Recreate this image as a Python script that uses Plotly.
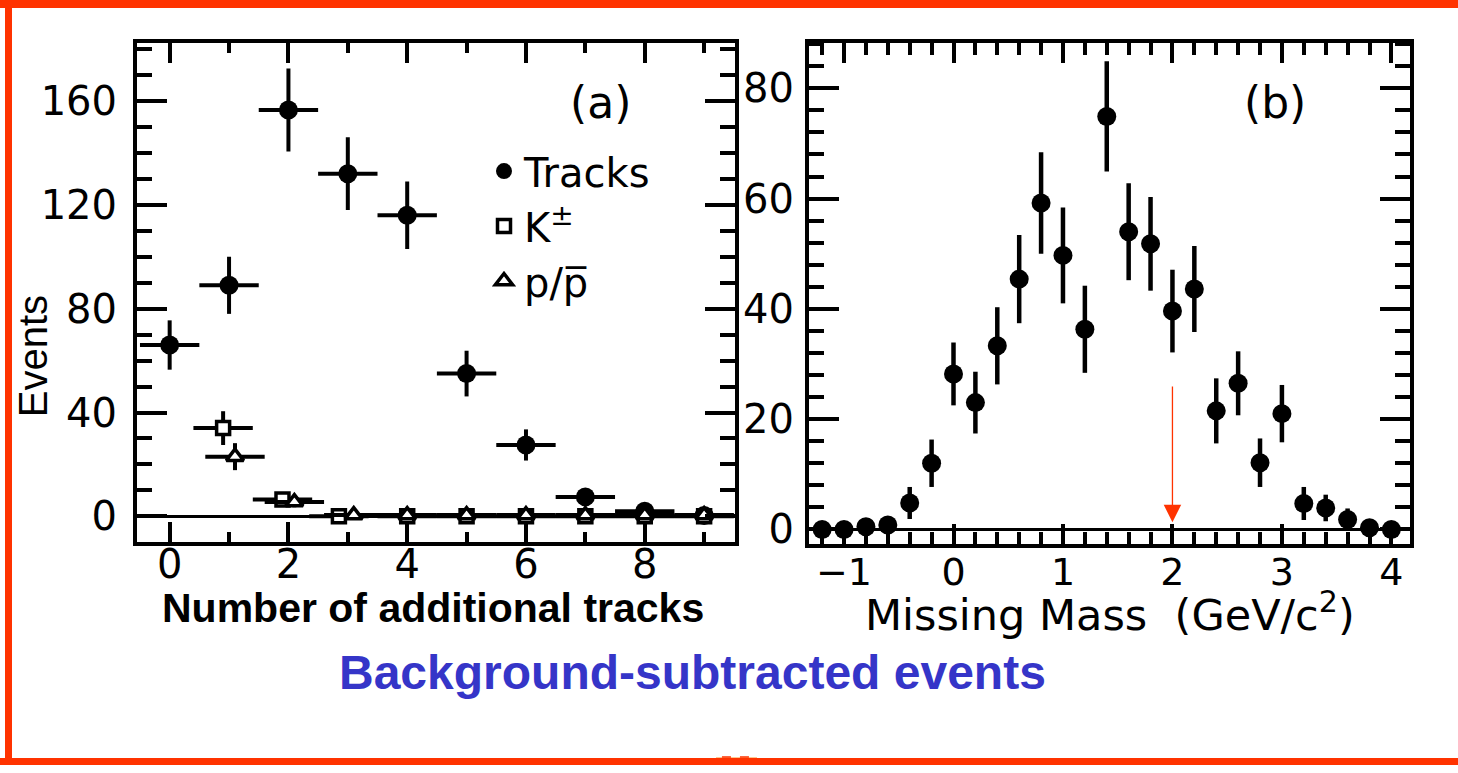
import plotly.graph_objects as go

# ---------------- data: panel (a) ----------------
tracks_x = [0, 1, 2, 3, 4, 5, 6, 7, 8, 9]
tracks_y = [66, 89, 156.5, 132, 116, 55, 27.5, 7.5, 2, 0.3]
tracks_err = [9.5, 11, 16, 14, 13, 8.8, 6, 2.5, 1.5, 1]

kaon_x = [0.9, 1.9, 2.85, 4, 5, 6, 7, 8, 9]
kaon_y = [34, 6.5, 0, 0, 0, 0, 0, 0, 0]
kaon_err = [6.5, 2, 1, 0.5, 0.5, 0.5, 0.5, 0.5, 0.5]

proton_x = [1.1, 2.1, 3.1, 4, 5, 6, 7, 8, 9]
proton_y = [23, 5.5, 0.5, 0.5, 0.5, 0.5, 0.5, 0.5, 0.5]
proton_err = [5.2, 2, 1, 0.5, 0.5, 0.5, 0.5, 0.5, 0.5]

bin_halfwidth = 0.5

# ---------------- data: panel (b) ----------------
mm_x = [-1.2, -1.0, -0.8, -0.6, -0.4, -0.2, 0.0, 0.2, 0.4, 0.6, 0.8, 1.0, 1.2, 1.4,
        1.6, 1.8, 2.0, 2.2, 2.4, 2.6, 2.8, 3.0, 3.2, 3.4, 3.6, 3.8, 4.0]
mm_y = [0, 0, 0.5, 0.8, 4.8, 12.0, 28.2, 23.0, 33.3, 45.4, 59.2, 49.7, 36.3, 74.9,
        54.0, 51.8, 39.6, 43.6, 21.5, 26.5, 12.1, 21.0, 4.7, 3.9, 1.8, 0.3, 0]
mm_err = [0.8, 0.8, 1, 1.2, 2.9, 4.3, 5.7, 5.6, 7, 8, 9.2, 8.7, 7.9, 10, 8.8, 8.5,
          7.5, 7.8, 5.9, 5.8, 4.4, 5.2, 3, 2.4, 2, 1, 0.8]

cut_x = 2.0
cut_arrow_top = 26.2
cut_arrow_tip = 1.3

left_xticks = [0, 2, 4, 6, 8]
left_yticks = [0, 40, 80, 120, 160]
right_xticks = [-1, 0, 1, 2, 3, 4]
right_yticks = [0, 20, 40, 60, 80]

W, H = 1458, 773
RED = "#FF3300"
TICKFONT = dict(family="DejaVu Sans", size=40, color="black")


def px(x):
    return x / W


def py(y):
    return 1 - y / H


fig = go.Figure()

fig.add_trace(go.Scatter(
    x=tracks_x, y=tracks_y, mode="markers", name="Tracks",
    marker=dict(symbol="circle", size=19, color="black"),
    error_y=dict(type="data", array=tracks_err, thickness=4, width=0, color="black"),
    error_x=dict(type="constant", value=bin_halfwidth, thickness=4, width=0, color="black"),
    xaxis="x", yaxis="y"))
fig.add_trace(go.Scatter(
    x=kaon_x, y=kaon_y, mode="markers", name="K<sup>±</sup>",
    marker=dict(symbol="square", size=13, color="white", line=dict(color="black", width=3.5)),
    error_y=dict(type="data", array=kaon_err, thickness=4, width=0, color="black"),
    error_x=dict(type="constant", value=bin_halfwidth, thickness=4, width=0, color="black"),
    xaxis="x", yaxis="y"))
fig.add_trace(go.Scatter(
    x=proton_x, y=proton_y, mode="markers", name="p/p\u0305",
    marker=dict(symbol="triangle-up", size=15, color="white", line=dict(color="black", width=3.5)),
    error_y=dict(type="data", array=proton_err, thickness=4, width=0, color="black"),
    error_x=dict(type="constant", value=bin_halfwidth, thickness=4, width=0, color="black"),
    xaxis="x", yaxis="y"))

fig.add_trace(go.Scatter(
    x=mm_x, y=mm_y, mode="markers", showlegend=False,
    marker=dict(symbol="circle", size=19, color="black"),
    error_y=dict(type="data", array=mm_err, thickness=4.5, width=0, color="black"),
    xaxis="x2", yaxis="y2"))

axis_common = dict(showline=True, linecolor="black", linewidth=4, mirror="allticks",
                   ticks="inside", tickcolor="black", tickwidth=3.5, showgrid=False)

fig.update_layout(
    width=W, height=H, autosize=False,
    margin=dict(l=0, r=0, t=0, b=0),
    paper_bgcolor="white", plot_bgcolor="white",
    xaxis=dict(domain=[px(137), px(735)], range=[-0.55, 9.52], tickvals=left_xticks,
               ticklen=20, ticklabelstandoff=-16, tickfont=TICKFONT,
               minor=dict(dtick=1, ticklen=10, ticks="inside", tickwidth=3.5, tickcolor="black"),
               zeroline=False, anchor="y", **axis_common),
    yaxis=dict(domain=[py(548), py(43)], range=[-10, 182.5], tickvals=left_yticks,
               ticklen=30, ticklabelstandoff=8, tickfont=TICKFONT,
               minor=dict(dtick=10, ticklen=15, ticks="inside", tickwidth=3.5, tickcolor="black"),
               zeroline=True, zerolinecolor="black", zerolinewidth=2.5, anchor="x", **axis_common),
    xaxis2=dict(domain=[px(809), px(1410)], range=[-1.32, 4.17], tickvals=right_xticks,
                ticklen=20, ticklabelstandoff=-9,
                tickfont=dict(family="DejaVu Sans", size=38, color="black"),
                minor=dict(dtick=0.2, ticklen=12, ticks="inside", tickwidth=3.5, tickcolor="black"),
                zeroline=False, anchor="y2", **axis_common),
    yaxis2=dict(domain=[py(550), py(43)], range=[-2.7, 88.3], tickvals=right_yticks,
                ticklen=30, ticklabelstandoff=3, tickfont=TICKFONT,
                minor=dict(dtick=4, ticklen=15, ticks="inside", tickwidth=3.5, tickcolor="black"),
                zeroline=True, zerolinecolor="black", zerolinewidth=2.5, anchor="x2", **axis_common),
    showlegend=True,
    legend=dict(x=px(484), y=py(140), xanchor="left", yanchor="top",
                bgcolor="rgba(0,0,0,0)", font=dict(family="DejaVu Sans", size=40, color="black"),
                itemsizing="trace", tracegroupgap=0),
)

annotations = [
    dict(text="(a)", x=px(600), y=py(104), xref="paper", yref="paper", showarrow=False,
         xanchor="center", yanchor="middle",
         font=dict(family="DejaVu Sans", size=44, color="black")),
    dict(text="(b)", x=px(1275), y=py(104), xref="paper", yref="paper", showarrow=False,
         xanchor="center", yanchor="middle",
         font=dict(family="DejaVu Sans", size=44, color="black")),
    dict(text="Events", x=px(33), y=py(360), xref="paper", yref="paper", showarrow=False,
         xanchor="center", yanchor="middle", textangle=-90,
         font=dict(family="Liberation Sans Narrow, Liberation Sans", size=40, color="black")),
    dict(text="<b>Number of additional tracks</b>", x=px(433), y=py(614), xref="paper", yref="paper",
         xanchor="center", yanchor="middle",
         showarrow=False, font=dict(family="Liberation Sans", size=41, color="black")),
    dict(text="Missing Mass  (GeV/c<sup>2</sup>)", x=px(1110), y=py(618), xref="paper", yref="paper",
         xanchor="center", yanchor="middle",
         showarrow=False, font=dict(family="DejaVu Sans", size=43, color="black")),
    dict(text="<b>Background-subtracted events</b>", x=px(692), y=py(680), xref="paper", yref="paper",
         xanchor="center", yanchor="middle",
         showarrow=False, font=dict(family="Liberation Sans", size=48, color="#3535C8")),
    dict(x=cut_x, y=cut_arrow_tip, ax=cut_x, ay=cut_arrow_top, xref="x2", yref="y2",
         axref="x2", ayref="y2", text="", showarrow=True, arrowhead=2, arrowsize=2.7,
         arrowwidth=1.3, arrowcolor=RED),
]
fig.update_layout(annotations=annotations)

shapes = [
    dict(type="rect", xref="paper", yref="paper", x0=0, x1=1, y0=py(8), y1=py(0),
         fillcolor=RED, line=dict(width=0), layer="above"),
    dict(type="rect", xref="paper", yref="paper", x0=px(5), x1=px(12), y0=0, y1=1,
         fillcolor=RED, line=dict(width=0), layer="above"),
    dict(type="rect", xref="paper", yref="paper", x0=0, x1=1, y0=py(773), y1=py(766),
         fillcolor=RED, line=dict(width=0), layer="above"),
    dict(type="rect", xref="paper", yref="paper", x0=px(716), x1=px(757), y0=py(770), y1=py(765),
         fillcolor="#FFC890", line=dict(color=RED, width=1.5, dash="dash"), layer="below"),
]
fig.update_layout(shapes=shapes)

fig.write_html("out.html",
               config={"displayModeBar": False, "responsive": False},
               post_script="document.body.style.margin='0px';document.body.style.overflow='hidden';")
